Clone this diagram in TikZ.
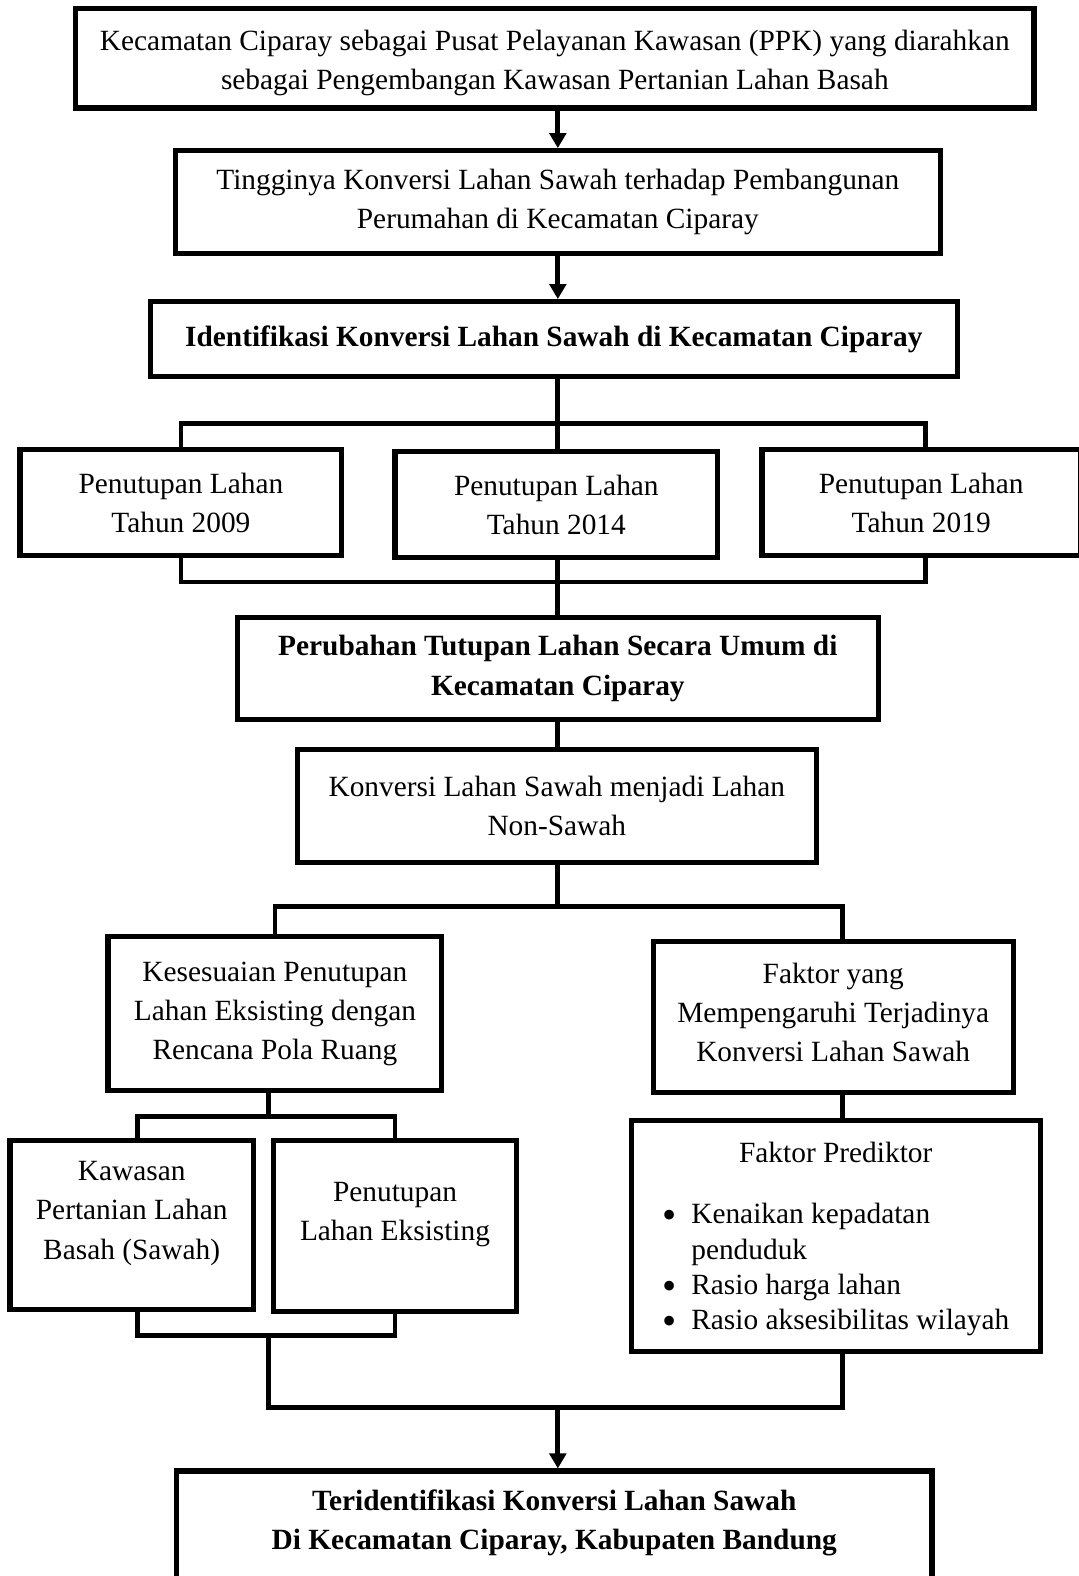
\documentclass[tikz,border=0pt]{standalone}
\usepackage{fontspec}
\setmainfont{Liberation Serif}
\usetikzlibrary{arrows.meta}

\newcommand{\titik}{\raisebox{-0.1cm}[0.3cm][0pt]{\fontsize{23}{20}\selectfont •}}

\begin{document}
\begin{tikzpicture}[x=0.02009cm, y=-0.02009cm,
			blok/.style={draw, line width=3pt, align=center, inner sep=0pt, font=\fontsize{16.7}{22.3}\selectfont},
			tebal/.style={blok, font=\fontsize{16.7}{22.3}\selectfont\bfseries},
			garis/.style={line width=2.7pt},
			panah/.style={garis, -{Triangle[length=0.3cm, width=0.33cm]}}
			]
			\useasboundingbox (0,0) rectangle (1073,1568);
			
			% kolom penghubung
			\coordinate (mid) at (555,0);
			\coordinate (kiri) at (267,0);
			\coordinate (kaw) at (137,0);
			\coordinate (kanan) at (838,0);
			\coordinate (t19) at (921,0);
			
			\node[blok, minimum width=19.16cm, minimum height=1.99cm] (ppk) at (552,58) {\rule{0pt}{0.6cm}Kecamatan Ciparay sebagai Pusat Pelayanan Kawasan (PPK) yang diarahkan\\sebagai Pengembangan Kawasan Pertanian Lahan Basah};
			\node[blok, minimum width=15.30cm, minimum height=2.05cm] (tinggi) at (555,201) {Tingginya Konversi Lahan Sawah terhadap Pembangunan\\Perumahan di Kecamatan Ciparay};
			\node[tebal, minimum width=16.14cm, minimum height=1.50cm] (ident) at (551,337.5) {Identifikasi Konversi Lahan Sawah di Kecamatan Ciparay};
			
			\node[blok, minimum width=6.43cm, minimum height=2.13cm] (th09) at (180,500) {Penutupan Lahan\\Tahun 2009};
			\node[blok, minimum width=6.45cm, minimum height=2.13cm] (th14) at (553.5,502) {Penutupan Lahan\\Tahun 2014};
			\node[blok, minimum width=6.37cm, minimum height=2.13cm] (th19) at (916.5,500) {Penutupan Lahan\\Tahun 2019};
			
			\node[tebal, minimum width=12.82cm, minimum height=2.05cm] (umum) at (555,665) {Perubahan Tutupan Lahan Secara Umum di\\Kecamatan Ciparay};
			\node[blok, minimum width=10.37cm, minimum height=2.25cm] (nonsawah) at (554,802) {Konversi Lahan Sawah menjadi Lahan\\Non-Sawah};
			
			\node[blok, minimum width=6.67cm, minimum height=3.08cm] (sesuai) at (273.5,1008.5) {Kesesuaian Penutupan\\Lahan Eksisting dengan\\Rencana Pola Ruang};
			\node[blok, minimum width=7.20cm, minimum height=3.02cm] (faktor) at (829,1012) {Faktor yang\\Mempengaruhi Terjadinya\\Konversi Lahan Sawah\rule[-0.2cm]{0pt}{0pt}};
			
			\node[blok, minimum width=4.86cm, minimum height=3.38cm] (kawasan) at (131,1219) {Kawasan\\Pertanian Lahan\\Basah (Sawah)\rule[-0.6cm]{0pt}{0.6cm}};
			\node[blok, minimum width=4.86cm, minimum height=3.42cm] (eksisting) at (393,1220) {Penutupan\\Lahan Eksisting\rule[-0.6cm]{0pt}{0.6cm}};
			\node[blok, minimum width=8.18cm, minimum height=4.62cm] (prediktor) at (831.5,1230) {\rule{0pt}{0.6cm}Faktor Prediktor\\[0.45cm]\def\arraystretch{0.9}\begin{tabular}[t]{@{}l@{\hspace{0.3cm}}l@{}}
					\titik & Kenaikan kepadatan\\
					& penduduk\\
					\titik & Rasio harga lahan\\
					\titik & Rasio aksesibilitas wilayah
				\end{tabular}};
			
			\node[tebal, minimum width=15.10cm, inner ysep=0.38cm, anchor=north] (hasil) at (551.5,1461) {Teridentifikasi Konversi Lahan Sawah\\Di Kecamatan Ciparay, Kabupaten Bandung\rule[-1.5cm]{0pt}{0pt}};
			
			\coordinate (bar1) at (555,421);
			\coordinate (bar2) at (555,579);
			\coordinate (bar3) at (555,902);
			\coordinate (bar4) at (267,1111);
			\coordinate (bar5) at (267,1329);
			\coordinate (bar6) at (555,1400);
			
			\draw[panah] (ppk.south -| mid) -- (tinggi.north -| mid);
			\draw[panah] (tinggi.south -| mid) -- (ident.north -| mid);
			\draw[garis] (ident.south -| mid) -- (th14.north -| mid);
			\draw[garis] (th09.north) |- (bar1) -| (th19.north -| t19);
			\draw[garis] (th09.south) |- (bar2) -| (th19.south -| t19);
			\draw[garis] (th14.south -| mid) -- (umum.north -| mid);
			\draw[garis] (umum.south -| mid) -- (nonsawah.north -| mid);
			\draw[garis] (nonsawah.south -| mid) -- (bar3);
			\draw[garis] (sesuai.north) |- (bar3) -| (faktor.north -| kanan);
			\draw[garis] (sesuai.south -| kiri) -- (bar4);
			\draw[garis] (kawasan.north -| kaw) |- (bar4) -| (eksisting.north);
			\draw[garis] (kawasan.south -| kaw) |- (bar5) -| (eksisting.south);
			\draw[garis] (faktor.south -| kanan) -- (prediktor.north -| kanan);
			\draw[garis] (bar5) |- (bar6) -| (prediktor.south -| kanan);
			\draw[panah] (bar6) -- (hasil.north -| mid);
		\end{tikzpicture}
\end{document}
